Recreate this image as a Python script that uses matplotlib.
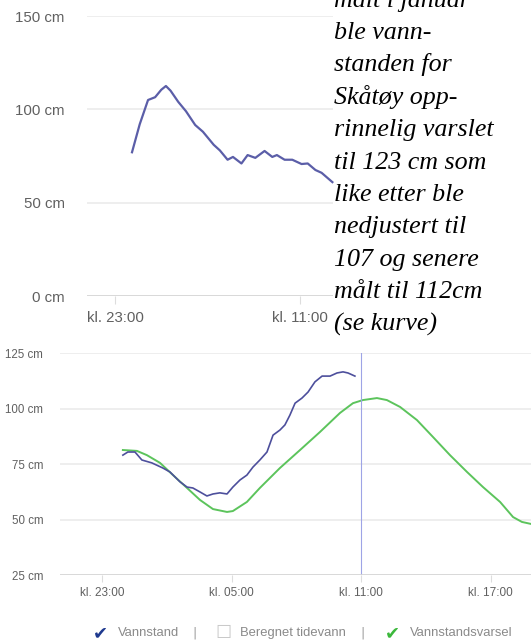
import matplotlib.pyplot as plt

# hours after kl. 23:00
top_hours = [1.1, 1.6, 2.14, 2.6, 3.0, 3.3, 3.6, 4.1, 4.6, 5.2, 5.7, 6.4, 6.8, 7.3, 7.65,
             8.2, 8.6, 9.1, 9.7, 10.2, 10.5, 11.0, 11.5, 12.1, 12.5, 13.0, 13.4, 14.1]
top_level = [77, 92, 105, 106.5, 110.5, 112.5, 110, 104, 99, 91.6, 88, 81, 78, 73, 74.5,
             71, 75.5, 74, 77.7, 74.5, 75.5, 73, 73, 70.7, 71, 67.5, 66, 61]
top_ticks = [0, 12]
top_ticklabels = ["kl. 23:00", "kl. 11:00"]
top_yticks = [0, 50, 100, 150]

obs_hours = [0.97, 1.2, 1.53, 1.85, 2.31, 2.82, 3.15, 3.61, 3.94, 4.21, 4.54, 4.86, 5.14,
             5.46, 5.79, 6.06, 6.39, 6.71, 6.99, 7.31, 7.64, 7.92, 8.24, 8.47, 8.7, 8.94,
             9.26, 9.54, 9.86, 10.19, 10.56, 10.88, 11.16, 11.39, 11.71]
obs_level = [79, 80.4, 80.4, 76.8, 75.5, 73.2, 71.4, 67, 64.6, 64.2, 62.4, 60.6, 61.5,
             62, 61.5, 64.6, 67.8, 70, 73.6, 76.8, 80.4, 88, 90.3, 92.6, 97, 102.4,
             104.7, 107.4, 112, 114.6, 114.6, 116, 116.5, 116, 114.6]
fc_hours = [0.97, 1.62, 2.08, 2.69, 3.29, 3.94, 4.54, 5.14, 5.79, 6.06, 6.71, 7.31, 8.24,
            9.17, 10.09, 11.02, 11.62, 12.08, 12.73, 13.19, 13.8, 14.58, 15.32, 16.11,
            16.9, 17.64, 18.43, 19.03, 19.44, 19.86]
fc_level = [81.3, 80.9, 79, 75.5, 70, 64.2, 58.8, 54.7, 53.4, 53.8, 57.9, 64.2, 73.2,
            81.3, 89.4, 98, 102.4, 103.8, 104.7, 103.8, 100.7, 94.8, 87.2, 79, 71.4,
            64.6, 57.9, 51.1, 48.9, 48]
bot_ticks = [0, 6, 12, 18]
bot_ticklabels = ["kl. 23:00", "kl. 05:00", "kl. 11:00", "kl. 17:00"]
bot_yticks = [25, 50, 75, 100, 125]
now_hour = 12

note_lines = ["målt i januar", "ble vann-", "standen for", "Skåtøy opp-",
              "rinnelig varslet", "til 123 cm som", "like etter ble",
              "nedjustert til", "107 og senere", "målt til 112cm", "(se kurve)"]

W, H = 531, 642
fig = plt.figure(figsize=(W / 100, H / 100), dpi=100)
fig.patch.set_facecolor("white")


def style_axes(ax, yticks, ylabel_size, pad):
    for s in ax.spines.values():
        s.set_visible(False)
    ax.set_yticks(yticks)
    ax.set_yticklabels([f"{v} cm" for v in yticks], fontsize=ylabel_size, color="#606060",
                       family="Liberation Sans")
    ax.tick_params(axis="y", length=0, pad=pad)
    ax.tick_params(axis="x", length=6, color="#dddddd", labelcolor="#606060", pad=6)
    ax.yaxis.grid(True, color="#ebebeb", linewidth=1.2)
    ax.set_axisbelow(True)


# top chart
ax1 = fig.add_axes([87 / W, 1 - 296 / H, (333 - 87) / W, 280 / H])
ax1.plot(top_hours, top_level, color="#5b5ea8", linewidth=1.6, clip_on=False)
ax1.set_xlim(-1.82, 14.14)
ax1.set_ylim(0, 150)
style_axes(ax1, top_yticks, 10.8, 16)
ax1.set_xticks(top_ticks)
ax1.set_xticklabels(top_ticklabels, fontsize=10.8, family="Liberation Sans")
ax1.tick_params(axis="x", pad=5)
ax1.axhline(0, color="#d5d5d5", linewidth=1.2)

for i, line in enumerate(note_lines):
    fig.text(334 / W, 1 - (6.6 + 32.4 * i) / H, line, fontsize=18.7, style="italic",
             family="Liberation Serif", va="baseline", ha="left", color="black")

# bottom chart
ax2 = fig.add_axes([60 / W, 1 - 575 / H, (W - 60) / W, (575 - 353) / H])
ax2.plot(fc_hours, fc_level, color="#5cc45c", linewidth=1.4)
ax2.plot(obs_hours, obs_level, color="#4d4f9c", linewidth=1.2)
ax2.axvline(now_hour, color="#9ea4e6", linewidth=0.8)
ax2.set_xlim(-1.94, 19.86)
ax2.set_ylim(25, 125)
style_axes(ax2, bot_yticks, 8.3, 12)
ax2.set_xticks(bot_ticks)
ax2.set_xticklabels(bot_ticklabels, fontsize=8.5, family="Liberation Sans")
ax2.tick_params(axis="x", length=5, pad=4)
ax2.axhline(25, color="#d5d5d5", linewidth=1.2)

# legend row
ly = 1 - 633 / H
fig.text(100 / W, ly, "\u2714", color="#1f3a8f", fontsize=13, ha="center", va="center",
         family="DejaVu Sans")
fig.text(118 / W, ly, "Vannstand", color="#8a8a8a", fontsize=9.4, va="center",
         family="Liberation Sans")
fig.text(195 / W, ly, "|", color="#999999", fontsize=9, va="center", ha="center")
fig.text(223 / W, ly, "\u2610", color="#c8c8c8", fontsize=13, ha="center", va="center",
         family="DejaVu Sans")
fig.text(240 / W, ly, "Beregnet tidevann", color="#8a8a8a", fontsize=9.4, va="center",
         family="Liberation Sans")
fig.text(362 / W, ly, "|", color="#999999", fontsize=9, va="center", ha="center")
fig.text(392 / W, ly, "\u2714", color="#3cb83c", fontsize=13, ha="center", va="center",
         family="DejaVu Sans")
fig.text(410 / W, ly, "Vannstandsvarsel", color="#8a8a8a", fontsize=9.4, va="center",
         family="Liberation Sans")

fig.savefig("out.png", dpi=100)
